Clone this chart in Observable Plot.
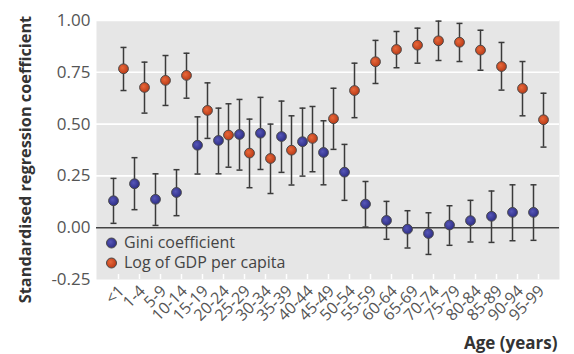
<!DOCTYPE html>
<html>
<head>
<meta charset="utf-8">
<script src="https://cdn.jsdelivr.net/npm/d3@7"></script>
<script src="https://cdn.jsdelivr.net/npm/@observablehq/plot@0.6"></script>
<style>
  html, body { margin: 0; padding: 0; background: white; }
</style>
</head>
<body>
<div id="chart"></div>
<script>
const ages = ["<1","1-4","5-9","10-14","15-19","20-24","25-29","30-34","35-39","40-44","45-49","50-54","55-59","60-64","65-69","70-74","75-79","80-84","85-89","90-94","95-99"];

const gini   = [0.130, 0.212, 0.137, 0.170, 0.398, 0.421, 0.450, 0.456, 0.440, 0.415, 0.363, 0.268, 0.114, 0.035, -0.007, -0.028, 0.013, 0.034, 0.055, 0.074, 0.074];
const giniLo = [0.021, 0.087, 0.011, 0.058, 0.259, 0.260, 0.278, 0.281, 0.267, 0.249, 0.207, 0.132, 0.003, -0.056, -0.098, -0.129, -0.085, -0.069, -0.071, -0.063, -0.061];
const giniHi = [0.238, 0.338, 0.260, 0.280, 0.535, 0.577, 0.619, 0.629, 0.611, 0.577, 0.516, 0.402, 0.223, 0.127, 0.082, 0.072, 0.106, 0.132, 0.177, 0.207, 0.207];

const gdp   = [0.767, 0.677, 0.711, 0.735, 0.566, 0.447, 0.360, 0.334, 0.374, 0.431, 0.526, 0.662, 0.801, 0.860, 0.881, 0.902, 0.895, 0.857, 0.778, 0.672, 0.521];
const gdpLo = [0.662, 0.553, 0.590, 0.625, 0.431, 0.292, 0.193, 0.165, 0.206, 0.270, 0.378, 0.531, 0.696, 0.772, 0.794, 0.807, 0.802, 0.760, 0.664, 0.540, 0.389];
const gdpHi = [0.870, 0.799, 0.831, 0.842, 0.699, 0.598, 0.524, 0.500, 0.540, 0.585, 0.673, 0.794, 0.904, 0.947, 0.963, 0.997, 0.986, 0.953, 0.894, 0.802, 0.649];

const seriesNames = ["Gini coefficient", "Log of GDP per capita"];
const yTicks = [-0.25, 0, 0.25, 0.5, 0.75, 1.0];
const gridTicks = [0.25, 0.5, 0.75, 1.0];
const yTitle = "Standardised regression coefficient";
const xTitle = "Age (years)";

const giniRows = ages.map((a, i) => ({age: a, v: gini[i], lo: giniLo[i], hi: giniHi[i]}));
const gdpRows  = ages.map((a, i) => ({age: a, v: gdp[i], lo: gdpLo[i], hi: gdpHi[i]}));

const capSymbol = {
  draw(context, size) {
    const w = Math.sqrt(size / Math.PI);
    context.moveTo(-w, 0);
    context.lineTo(w, 0);
  }
};

const font = "'Open Sans', 'Noto Sans', sans-serif";
const barColor = "#3a3a3a";
const dodge = 5;

function series(rows, dx, fill) {
  return [
    Plot.ruleX(rows, {x: "age", y1: "lo", y2: "hi", dx, stroke: barColor, strokeWidth: 1.5}),
    Plot.dot(rows, {x: "age", y: "lo", dx, symbol: capSymbol, r: 3, stroke: barColor, strokeWidth: 1.5, fill: "none"}),
    Plot.dot(rows, {x: "age", y: "hi", dx, symbol: capSymbol, r: 3, stroke: barColor, strokeWidth: 1.5, fill: "none"}),
    Plot.dot(rows, {x: "age", y: "v", dx, r: 4.9, fill, stroke: "#4a4a4a", strokeWidth: 1})
  ];
}

const chart = Plot.plot({
  width: 574,
  height: 354,
  marginTop: 20,
  marginBottom: 75,
  marginLeft: 96,
  marginRight: 15,
  style: {fontFamily: font, background: "white", overflow: "visible"},
  x: {type: "point", domain: ages, padding: 0.61},
  y: {domain: [-0.25, 1]},
  marks: [
    Plot.frame({fill: "#e6e6e6", stroke: "none"}),
    Plot.gridY(gridTicks, {stroke: "white", strokeOpacity: 1, strokeWidth: 1.6}),
    Plot.ruleY([0], {stroke: "#444", strokeWidth: 1.4}),
    Plot.tickX(ages, {x: d => d, stroke: "white", strokeWidth: 1.5, insetTop: 254}),
    Plot.axisX({tickSize: 0, tickPadding: 9, tickRotate: -45, dx: 3, fontSize: 16, fill: "#555", label: null}),
    Plot.axisY(yTicks, {tickSize: 0, tickPadding: 6, tickFormat: d => d.toFixed(2), fontSize: 17, fill: "#555", label: null}),
    ...series(giniRows, -dodge, "url(#gradBlue)"),
    ...series(gdpRows, dodge, "url(#gradRed)"),
    // legend
    Plot.dot([seriesNames[0]], {frameAnchor: "bottom-left", dx: 15, dy: -36.5, r: 5, fill: "url(#gradBlue)", stroke: "#4a4a4a", strokeWidth: 1}),
    Plot.dot([seriesNames[1]], {frameAnchor: "bottom-left", dx: 15, dy: -16.5, r: 5, fill: "url(#gradRed)", stroke: "#4a4a4a", strokeWidth: 1}),
    Plot.text([seriesNames[0]], {text: d => d, frameAnchor: "bottom-left", dx: 27.5, dy: -36.5, textAnchor: "start", lineAnchor: "middle", fontSize: 16, fill: "#444"}),
    Plot.text([seriesNames[1]], {text: d => d, frameAnchor: "bottom-left", dx: 27.5, dy: -16.5, textAnchor: "start", lineAnchor: "middle", fontSize: 16, fill: "#444"}),
    // titles
    Plot.text([yTitle], {text: d => d, frameAnchor: "left", dx: -71, dy: 9.5, rotate: -90, textAnchor: "middle", lineAnchor: "middle", fontSize: 16.3, fontWeight: "bold", fill: "#333"}),
    Plot.text([xTitle], {text: d => d, frameAnchor: "bottom-right", dx: -2, dy: 64, textAnchor: "end", lineAnchor: "middle", fontSize: 17, fontWeight: "bold", fill: "#333"})
  ]
});

// radial gradients for the shaded points
const svg = d3.select(chart);
const defs = svg.insert("defs", ":first-child");
function grad(id, c0, c1) {
  const g = defs.append("radialGradient").attr("id", id).attr("cx", "40%").attr("cy", "40%").attr("r", "60%");
  g.append("stop").attr("offset", "0%").attr("stop-color", c0);
  g.append("stop").attr("offset", "100%").attr("stop-color", c1);
}
grad("gradBlue", "#5656b8", "#2e2e86");
grad("gradRed", "#e8683a", "#bb3c18");

document.getElementById("chart").appendChild(chart);
</script>
</body>
</html>
